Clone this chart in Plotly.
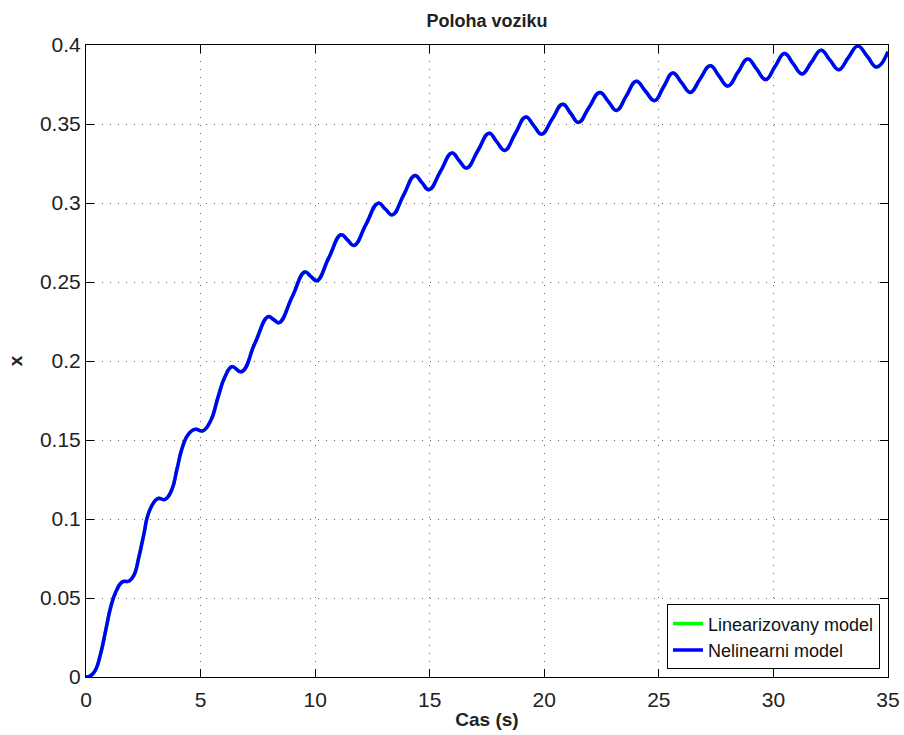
import plotly.graph_objects as go

# Cart position over time (s, m), sampled along the response curve
cas = [0.00, 0.20, 0.40, 0.64, 0.86, 1.08, 1.30, 1.58, 1.88, 2.09, 2.31, 2.53, 2.70, 2.97,
       3.15, 3.45, 3.74, 3.96, 4.17, 4.39, 4.61, 4.80, 5.10, 5.45, 5.75, 6.05, 6.37,
       6.79, 7.37, 7.95, 8.19, 8.43, 8.99, 9.55, 9.81, 10.07, 10.60, 11.13, 11.42,
       11.70, 12.22, 12.75, 13.06, 13.37, 13.86, 14.35, 14.66, 14.97, 15.47, 15.97,
       16.29, 16.61, 17.10, 17.59, 17.93, 18.27, 18.73, 19.19, 19.54, 19.88, 20.34,
       20.80, 21.15, 21.49, 21.95, 22.42, 22.79, 23.15, 23.58, 24.01, 24.41, 24.81,
       25.21, 25.61, 25.99, 26.37, 26.80, 27.24, 27.62, 28.01, 28.45, 28.88, 29.27,
       29.66, 30.07, 30.48, 30.86, 31.25, 31.66, 32.08, 32.46, 32.85, 33.26, 33.68,
       34.10, 34.51, 35.00]
poloha = [0.0000, 0.0008, 0.0040, 0.0148, 0.0295, 0.0443, 0.0538, 0.0601, 0.0608, 0.0644,
          0.0760, 0.0908, 0.1024, 0.1108, 0.1130, 0.1124, 0.1183, 0.1309, 0.1436,
          0.1520, 0.1558, 0.1568, 0.1558, 0.1625, 0.1765, 0.1895, 0.1964, 0.1932,
          0.2112, 0.2281, 0.2262, 0.2243, 0.2403, 0.2563, 0.2536, 0.2508, 0.2654,
          0.2799, 0.2765, 0.2731, 0.2865, 0.2999, 0.2962, 0.2925, 0.3050, 0.3174,
          0.3129, 0.3084, 0.3200, 0.3316, 0.3268, 0.3221, 0.3331, 0.3441, 0.3387,
          0.3333, 0.3438, 0.3544, 0.3490, 0.3435, 0.3530, 0.3625, 0.3568, 0.3510,
          0.3605, 0.3700, 0.3643, 0.3586, 0.3678, 0.3770, 0.3709, 0.3648, 0.3736,
          0.3823, 0.3762, 0.3700, 0.3785, 0.3869, 0.3805, 0.3741, 0.3827, 0.3912,
          0.3847, 0.3781, 0.3864, 0.3946, 0.3882, 0.3817, 0.3892, 0.3967, 0.3906,
          0.3844, 0.3918, 0.3993, 0.3927, 0.3861, 0.3958]

x_ticks = [0, 5, 10, 15, 20, 25, 30, 35]
y_ticks = [0, 0.05, 0.1, 0.15, 0.2, 0.25, 0.3, 0.35, 0.4]
y_tick_labels = ["0", "0.05", "0.1", "0.15", "0.2", "0.25", "0.3", "0.35", "0.4"]

FONT = "Liberation Sans, Arial, Helvetica, sans-serif"

fig = go.Figure()
# The linearized model follows the same trajectory and is drawn underneath
fig.add_trace(go.Scatter(x=cas, y=poloha, mode="lines", name="Linearizovany model",
                         line=dict(color="#00ff00", width=3.5, shape="spline", smoothing=1.3)))
fig.add_trace(go.Scatter(x=cas, y=poloha, mode="lines", name="Nelinearni model",
                         line=dict(color="#0000ff", width=3.5, shape="spline", smoothing=1.3)))

axis_common = dict(
    showline=True, linecolor="black", linewidth=1, mirror="allticks",
    ticks="inside", ticklen=8, tickcolor="black", automargin=False,
    showgrid=True, gridcolor="rgba(0,0,0,0.6)", griddash="1px,7px", gridwidth=1,
    zeroline=False, tickfont=dict(family=FONT, size=21, color="#222"),
)

fig.update_xaxes(range=[0, 35], tickvals=x_ticks, ticklabelstandoff=4,
                 title=dict(text="<b>Cas (s)</b>", font=dict(family=FONT, size=19, color="#222"),
                            standoff=2),
                 **axis_common)
fig.update_yaxes(range=[0, 0.4], tickvals=y_ticks, ticktext=y_tick_labels,
                 title=dict(text="<b>x</b>", font=dict(family=FONT, size=19, color="#222"),
                            standoff=12),
                 **axis_common)

fig.update_layout(
    width=904, height=735,
    margin=dict(l=86, r=16, t=45, b=58),
    paper_bgcolor="white", plot_bgcolor="white",
    title=dict(text="<b>Poloha voziku</b>", x=0.5, xanchor="center", y=0.972, yanchor="middle",
               xref="paper", font=dict(family=FONT, size=18, color="#222")),
    legend=dict(x=0.990, y=0.012, xanchor="right", yanchor="bottom",
                bgcolor="white", bordercolor="black", borderwidth=1,
                font=dict(family=FONT, size=18, color="#111"),
                itemwidth=30, tracegroupgap=0),
    showlegend=True,
)

fig.write_html("out.html")
